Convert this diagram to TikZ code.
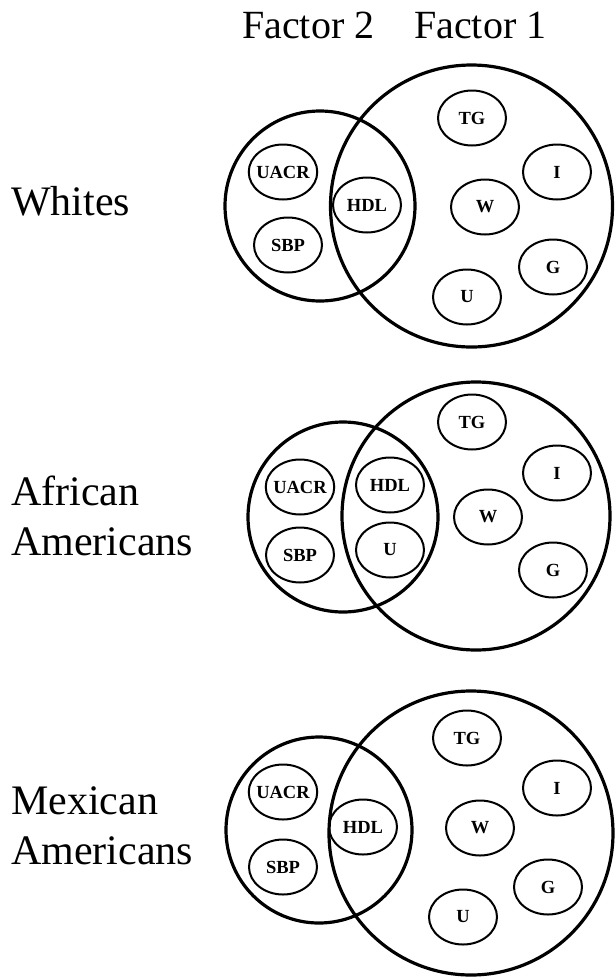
\documentclass[tikz,border=0pt]{standalone}
\usepackage{fontspec}
\setmainfont{Liberation Serif}
\usepackage{tikz}
\usetikzlibrary{shapes.geometric}

\begin{document}
\begin{tikzpicture}[
      x=1pt, y=-1pt,
      ring/.style={draw, circle, line width=3.2pt, inner sep=0pt},
      item/.style={draw, ellipse, line width=2pt, inner ysep=0pt, inner xsep=-2.5pt,
                   minimum width=68pt, minimum height=55pt,
                   font=\fontsize{18.5}{22}\selectfont\bfseries},
      group/.style={anchor=west, inner sep=0pt, align=left,
                    font=\fontsize{42}{50}\selectfont},
      factor/.style={anchor=base west, inner sep=0pt,
                     font=\fontsize{40}{48}\selectfont},
    ]
    \useasboundingbox (0,0) rectangle (614,978);

    \node[factor] (fac2) at (242,38) {Factor 2};
    \node[factor] (fac1) at (414,38) {Factor 1};

    \node[group, anchor=base west] (whites) at (11,215) {Whites};
    \node[group] (afram) at (11,516) {African\\Americans};
    \node[group] (mexam) at (11,826) {Mexican\\Americans};

    % Whites
    \node[ring, minimum size=282pt] (w-f1) at (471.5,206) {};
    \node[ring, minimum size=190pt] (w-f2) at (320,206) {};
    \node[item] (w-uacr) at (283,172) {UACR};
    \node[item] (w-sbp) at (288,245) {SBP};
    \node[item] (w-hdl) at (367,205) {HDL};
    \node[item] (w-tg) at (472,118) {TG};
    \node[item] (w-i) at (557,172) {I};
    \node[item] (w-w) at (485,207) {W};
    \node[item] (w-g) at (553,267) {G};
    \node[item] (w-u) at (467,297) {U};

    % African Americans
    \node[ring, minimum size=268pt] (aa-f1) at (476,516) {};
    \node[ring, minimum size=190pt] (aa-f2) at (343,517) {};
    \node[item] (aa-uacr) at (300,487) {UACR};
    \node[item] (aa-sbp) at (300,555) {SBP};
    \node[item] (aa-hdl) at (390,485) {HDL};
    \node[item] (aa-u) at (390,550) {U};
    \node[item] (aa-tg) at (472,422) {TG};
    \node[item] (aa-i) at (557,473) {I};
    \node[item] (aa-w) at (488,517) {W};
    \node[item] (aa-g) at (553,570) {G};

    % Mexican Americans
    \node[ring, minimum size=284pt] (ma-f1) at (471,833) {};
    \node[ring, minimum size=186pt] (ma-f2) at (319,830) {};
    \node[item] (ma-uacr) at (283,792) {UACR};
    \node[item] (ma-sbp) at (283,867) {SBP};
    \node[item] (ma-hdl) at (363,827) {HDL};
    \node[item] (ma-tg) at (467,738) {TG};
    \node[item] (ma-i) at (557,788) {I};
    \node[item] (ma-w) at (480,828) {W};
    \node[item] (ma-g) at (548,887) {G};
    \node[item] (ma-u) at (463,917) {U};
  \end{tikzpicture}
\end{document}
